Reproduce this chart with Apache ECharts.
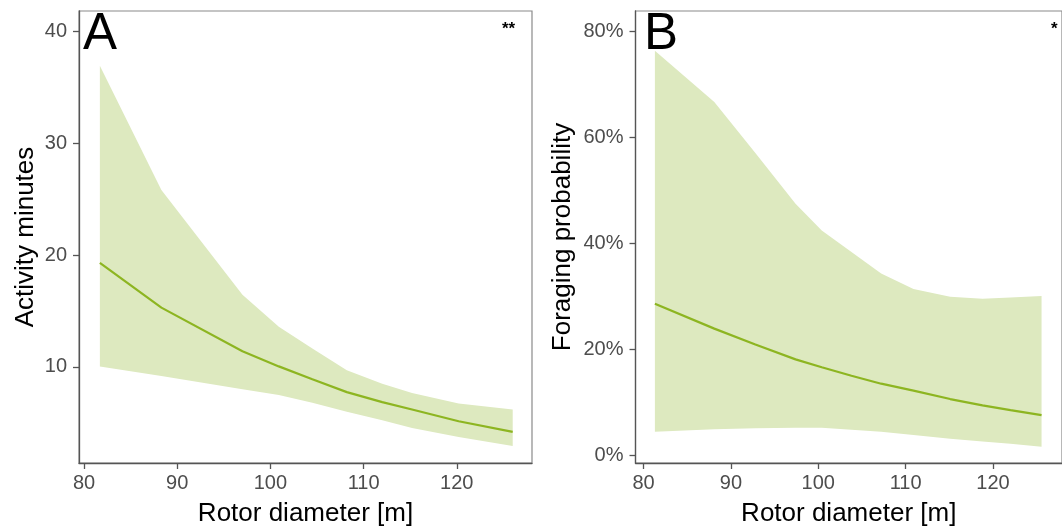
<!DOCTYPE html>
<html>
<head>
<meta charset="utf-8">
<script src="https://cdn.jsdelivr.net/npm/echarts@6/dist/echarts.min.js"></script>
<style>
html,body{margin:0;padding:0;background:#fff;}
#c{width:1062px;height:532px;}
</style>
</head>
<body>
<div id="c"></div>
<script>
// Panel A: Activity minutes vs rotor diameter
const xA   = [81.7, 88.3, 97.0, 100.9, 104.5, 108.2, 112.0, 115.2, 120.2, 126.0];
const fitA = [19.3, 15.3, 11.4, 10.05, 8.9, 7.75, 6.86, 6.2, 5.15, 4.2];
const upA  = [36.9, 25.8, 16.44, 13.6, 11.65, 9.7, 8.5, 7.68, 6.73, 6.2];
const loA  = [10.05, 9.2, 8.0, 7.5, 6.8, 6.0, 5.25, 4.55, 3.75, 2.93];

// Panel B: Foraging probability (%) vs rotor diameter
const xB   = [81.3, 88.1, 92.8, 97.4, 100.4, 103.8, 107.2, 110.9, 115.1, 118.8, 122.0, 125.56];
const fitB = [28.6, 23.9, 20.9, 18.1, 16.6, 15.0, 13.5, 12.2, 10.6, 9.4, 8.5, 7.55];
const upB  = [76.4, 66.7, 57.1, 47.5, 42.45, 38.4, 34.3, 31.4, 29.9, 29.55, 29.8, 30.06];
const loB  = [4.4, 4.9, 5.1, 5.2, 5.2, 4.8, 4.4, 3.8, 3.1, 2.6, 2.15, 1.57];

const xTicks = [80, 90, 100, 110, 120];
const yTicksA = [10, 20, 30, 40];
const yTicksB = [0, 20, 40, 60, 80];

const FONT = '"Liberation Sans", Arial, sans-serif';
const LINE = '#8db521';
const FILL = '#dde9bf';
const AXC = '#555555';

function pairs(xs, ys) { return xs.map((x, i) => [x, ys[i]]); }
function triples(xs, lo, hi) { return xs.map((x, i) => [x, lo[i], hi[i]]); }

function xAxisDef(idx, min, max) {
  return {
    type: 'value', gridIndex: idx, min: min, max: max,
    splitLine: { show: false },
    axisLine: { show: true, onZero: false, lineStyle: { color: AXC, width: 1.3 } },
    axisTick: { show: true, length: 6, lineStyle: { color: AXC, width: 1.3 }, customValues: xTicks },
    axisLabel: { customValues: xTicks, color: '#4d4d4d', fontSize: 20, fontFamily: FONT, margin: 10 },
    name: 'Rotor diameter [m]', nameLocation: 'middle', nameGap: 38,
    nameTextStyle: { color: '#000', fontSize: 26, fontFamily: FONT }
  };
}
function yAxisDef(idx, min, max, ticks, fmt, name, gap) {
  return {
    type: 'value', gridIndex: idx, min: min, max: max,
    splitLine: { show: false },
    axisLine: { show: true, onZero: false, lineStyle: { color: AXC, width: 1.3 } },
    axisTick: { show: true, length: 6, lineStyle: { color: AXC, width: 1.3 }, customValues: ticks },
    axisLabel: { customValues: ticks, color: '#4d4d4d', fontSize: 20, fontFamily: FONT, margin: 12, formatter: fmt },
    name: name, nameLocation: 'middle', nameGap: gap,
    nameTextStyle: { color: '#000', fontSize: 26, fontFamily: FONT }
  };
}
function bandSeries(idx, xs, hi, lo, fit) {
  const band = triples(xs, lo, hi);
  return [
    { type: 'custom', xAxisIndex: idx, yAxisIndex: idx, data: band, silent: true, z: 1,
      encode: { x: 0, y: [1, 2] },
      renderItem: function (params, api) {
        if (params.dataIndex !== 0) return null;
        const pts = [];
        for (let i = 0; i < band.length; i++) pts.push(api.coord([band[i][0], band[i][2]]));
        for (let i = band.length - 1; i >= 0; i--) pts.push(api.coord([band[i][0], band[i][1]]));
        return { type: 'polygon', shape: { points: pts }, style: { fill: FILL, stroke: null } };
      }
    },
    { type: 'line', xAxisIndex: idx, yAxisIndex: idx, data: pairs(xs, fit),
      symbol: 'none', lineStyle: { color: LINE, width: 2.2 }, z: 3 }
  ];
}

const chart = echarts.init(document.getElementById('c'), null, { renderer: 'canvas' });
chart.setOption({
  animation: false,
  backgroundColor: '#fff',
  title: [
    { text: 'A', left: 78, top: 4, textStyle: { fontSize: 51, fontWeight: 'normal', color: '#000', fontFamily: FONT } },
    { text: 'B', left: 639, top: 4, textStyle: { fontSize: 51, fontWeight: 'normal', color: '#000', fontFamily: FONT } },
    { text: '**', left: 497, top: 16, textStyle: { fontSize: 17, fontWeight: 'bold', color: '#000', fontFamily: FONT } },
    { text: '*', left: 1046, top: 16, textStyle: { fontSize: 17, fontWeight: 'bold', color: '#000', fontFamily: FONT } }
  ],
  grid: [
    { left: 79, top: 11, width: 453, height: 456, show: true, borderColor: '#8a8a8a', borderWidth: 1.2, backgroundColor: 'transparent' },
    { left: 635.5, top: 11, width: 433, height: 456, show: true, borderColor: '#8a8a8a', borderWidth: 1.2, backgroundColor: 'transparent' }
  ],
  xAxis: [ xAxisDef(0, 79.46, 128.07), xAxisDef(1, 79.08, 127.9) ],
  yAxis: [
    yAxisDef(0, 1.42, 41.8, yTicksA, v => String(v), 'Activity minutes', 40),
    yAxisDef(1, -1.48, 83.9, yTicksB, v => v + '%', 'Foraging probability', 60)
  ],
  series: [].concat(
    bandSeries(0, xA, upA, loA, fitA),
    bandSeries(1, xB, upB, loB, fitB)
  )
});
</script>
</body>
</html>
